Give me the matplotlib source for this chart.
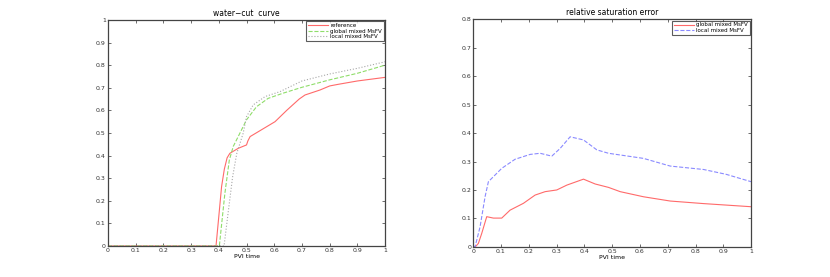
import numpy as np
import matplotlib
matplotlib.use("Agg")
import matplotlib.pyplot as plt

# water-cut curve
ref_x = [0, 0.39, 0.40, 0.41, 0.42, 0.43, 0.44, 0.47, 0.50, 0.505, 0.513, 0.543,
         0.603, 0.645, 0.69, 0.711, 0.765, 0.80, 0.83, 0.9, 1.0]
ref_y = [0, 0, 0.13, 0.262, 0.34, 0.39, 0.41, 0.432, 0.447, 0.465, 0.484, 0.506,
         0.55, 0.60, 0.65, 0.668, 0.69, 0.708, 0.715, 0.73, 0.746]
glob_x = [0, 0.402, 0.422, 0.438, 0.452, 0.47, 0.50, 0.536, 0.578, 0.632, 0.70,
          0.80, 0.90, 1.0]
glob_y = [0, 0, 0.233, 0.38, 0.44, 0.484, 0.558, 0.616, 0.653, 0.676, 0.702,
          0.735, 0.764, 0.80]
loc_x = [0, 0.419, 0.435, 0.45, 0.465, 0.488, 0.50, 0.524, 0.567, 0.621, 0.70,
         0.80, 0.90, 1.0]
loc_y = [0, 0, 0.16, 0.307, 0.41, 0.499, 0.572, 0.624, 0.661, 0.683, 0.73,
         0.761, 0.786, 0.815]

# relative saturation error
eg_x = [0, 0.01, 0.019, 0.031, 0.049, 0.073, 0.103, 0.133, 0.181, 0.223, 0.259,
        0.301, 0.337, 0.397, 0.439, 0.487, 0.529, 0.613, 0.709, 0.829, 1.0]
eg_y = [0, 0.002, 0.012, 0.047, 0.106, 0.101, 0.101, 0.129, 0.153, 0.182, 0.194,
        0.2, 0.217, 0.238, 0.221, 0.209, 0.194, 0.176, 0.161, 0.152, 0.141]
el_x = [0, 0.007, 0.025, 0.043, 0.055, 0.103, 0.151, 0.205, 0.241, 0.283, 0.313,
        0.349, 0.397, 0.445, 0.487, 0.613, 0.709, 0.829, 0.91, 1.0]
el_y = [0, 0, 0.07, 0.176, 0.229, 0.276, 0.308, 0.325, 0.329, 0.319, 0.346,
        0.387, 0.376, 0.341, 0.329, 0.311, 0.284, 0.272, 0.255, 0.229]

fs = 4.5
lfs = 4.0
fig = plt.figure(figsize=(8.3, 2.77), dpi=100)
ax1 = fig.add_axes([0.130, 0.112, 0.334, 0.816])
ax2 = fig.add_axes([0.570, 0.109, 0.335, 0.821])


def style(ax, ymax, ystep):
    ax.set_xlim(0, 1)
    ax.set_ylim(0, ymax)
    ax.set_xticks(np.arange(0, 1.01, 0.1))
    ax.set_xticklabels(["0", "0.1", "0.2", "0.3", "0.4", "0.5", "0.6", "0.7", "0.8", "0.9", "1"])
    yt = np.arange(0, ymax + 1e-9, ystep)
    ax.set_yticks(yt)
    ax.set_yticklabels(["0" if v == 0 else ("1" if abs(v - 1) < 1e-9 else "%.1f" % v) for v in yt])
    ax.tick_params(direction="in", length=2.5, width=0.5, labelsize=fs, pad=1.5,
                   top=True, right=True, colors="#333333")
    for s in ax.spines.values():
        s.set_linewidth(0.9)
        s.set_color("#444444")
    ax.set_xlabel("PVI time", fontsize=fs, labelpad=0.5)


def legend(ax):
    leg = ax.legend(loc="upper right", fontsize=lfs, fancybox=False, borderpad=0.3,
                    handlelength=3.6, labelspacing=0.1, borderaxespad=0.25,
                    handletextpad=0.4)
    leg.get_frame().set_edgecolor("#333333")
    leg.get_frame().set_linewidth(0.8)


ax1.plot(ref_x, ref_y, "-", color="#ff6a6a", lw=0.8, label="reference")
ax1.plot(glob_x, glob_y, "--", color="#8fdd6a", lw=0.8, label="global mixed MsFV")
ax1.plot(loc_x, loc_y, ":", color="#a8a8a8", lw=0.8, label="local mixed MsFV")
style(ax1, 1, 0.1)
ax1.set_title("water\u2212cut  curve", fontsize=5.5, pad=3)
legend(ax1)

ax2.plot(eg_x, eg_y, "-", color="#ff6a6a", lw=0.8, label="global mixed MsFV")
ax2.plot(el_x, el_y, "--", color="#8a8aff", lw=0.8, label="local mixed MsFV")
style(ax2, 0.8, 0.1)
ax2.set_title("relative saturation error", fontsize=5.5, pad=3)
legend(ax2)

fig.savefig("out.png", dpi=100)
